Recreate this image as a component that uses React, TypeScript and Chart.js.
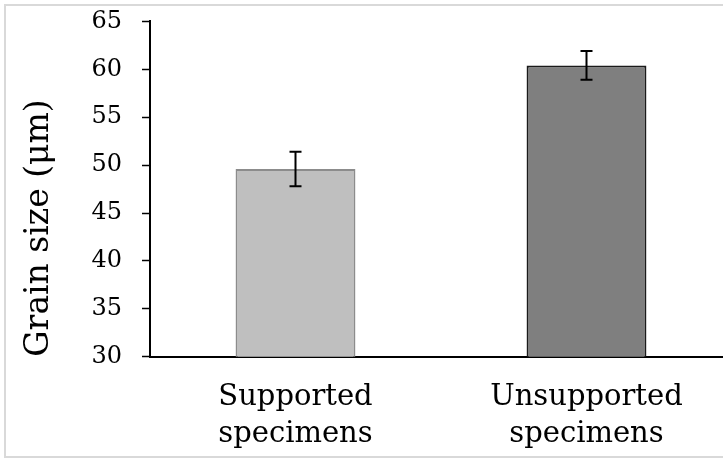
import React, { useEffect, useRef } from "react";
import { Chart, registerables } from "chart.js";

Chart.register(...registerables);

const categories: string[][] = [["Supported", "specimens"], ["Unsupported", "specimens"]];
const grainSize: number[] = [49.6, 60.4];
const grainError: number[] = [1.8, 1.5];
const fillColors: string[] = ["#bfbfbf", "#7f7f7f"];
const edgeColors: string[] = ["#8c8c8c", "#1a1a1a"];
const yTitle = "Grain size (\u03bcm)";
const yMin = 30;
const yMax = 65;
const yStep = 5;

const FONT = "'DejaVu Serif', serif";

const errorBarPlugin = {
  id: "errorBars",
  afterDatasetsDraw(chart: any) {
    const { ctx, scales } = chart;
    const meta = chart.getDatasetMeta(0);
    const y = scales.y;
    ctx.save();
    ctx.strokeStyle = "#000";
    ctx.lineWidth = 2;
    meta.data.forEach((bar: any, i: number) => {
      const x = bar.x;
      const top = y.getPixelForValue(grainSize[i] + grainError[i]);
      const bot = y.getPixelForValue(grainSize[i] - grainError[i]);
      const cap = 6;
      ctx.beginPath();
      ctx.moveTo(x, top);
      ctx.lineTo(x, bot);
      ctx.moveTo(x - cap, top);
      ctx.lineTo(x + cap, top);
      ctx.moveTo(x - cap, bot);
      ctx.lineTo(x + cap, bot);
      ctx.stroke();
    });
    ctx.restore();
  },
};

export default function App() {
  const ref = useRef<HTMLCanvasElement | null>(null);
  useEffect(() => {
    document.body.style.margin = "0";
    if (!ref.current) return;
    const chart = new Chart(ref.current, {
      type: "bar",
      data: {
        labels: categories,
        datasets: [
          {
            data: grainSize,
            backgroundColor: fillColors,
            borderColor: edgeColors,
            borderWidth: 2,
            categoryPercentage: 1,
            barPercentage: 0.412,
          },
        ],
      },
      options: {
        animation: false,
        responsive: false,
        layout: { padding: { top: 8, bottom: 7, left: 0, right: 0 } },
        plugins: { legend: { display: false }, tooltip: { enabled: false } },
        scales: {
          x: {
            grid: { display: false, drawTicks: false },
            border: { color: "#000", width: 2 },
            ticks: {
              color: "#000",
              padding: 22,
              font: { family: FONT, size: 29, lineHeight: 1.28 },
            },
          },
          y: {
            min: yMin,
            max: yMax,
            afterFit: (scale: any) => {
              scale.width = 150;
            },
            grid: { drawOnChartArea: false, drawTicks: true, tickLength: 8, color: "#000", tickWidth: 1.5 },
            border: { color: "#000", width: 2 },
            ticks: {
              stepSize: yStep,
              color: "#000",
              padding: 20,
              font: { family: FONT, size: 24 },
            },
            title: {
              display: true,
              text: yTitle,
              color: "#000",
              align: "start",
              padding: { top: 20, bottom: 0 },
              font: { family: FONT, size: 33, lineHeight: 1.2 },
            },
          },
        },
      },
      plugins: [errorBarPlugin],
    });
    return () => chart.destroy();
  }, []);
  return (
    <div style={{ position: "relative", width: 723, height: 459, overflow: "hidden", background: "#fff" }}>
      <canvas ref={ref} width={732} height={495} style={{ position: "absolute", left: 0, top: -13 }} />
      <div
        style={{
          position: "absolute",
          left: 4,
          top: 4,
          width: 740,
          height: 450,
          border: "2px solid #d9d9d9",
          pointerEvents: "none",
        }}
      />
    </div>
  );
}
